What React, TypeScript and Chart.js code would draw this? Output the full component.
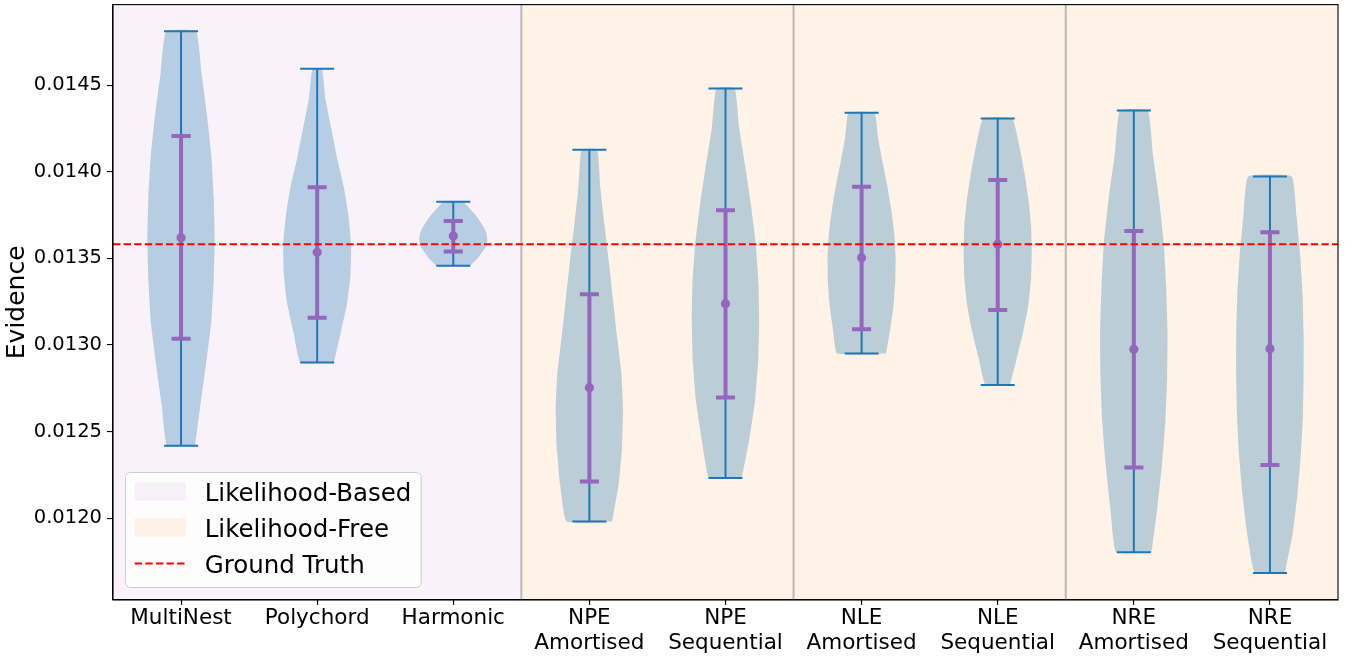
import { useEffect, useRef } from 'react';
import { Chart, registerables } from 'chart.js';

Chart.register(...registerables);

// ---------- data ----------
const categories = [
  'MultiNest',
  'Polychord',
  'Harmonic',
  'NPE\nAmortised',
  'NPE\nSequential',
  'NLE\nAmortised',
  'NLE\nSequential',
  'NRE\nAmortised',
  'NRE\nSequential',
];

const mins = [0.012417, 0.012898, 0.013457, 0.01198, 0.012231, 0.01295, 0.012769, 0.011802, 0.011683];
const maxs = [0.014811, 0.014594, 0.013827, 0.014127, 0.014481, 0.01434, 0.014308, 0.014354, 0.013973];
const means = [0.013619, 0.013535, 0.013629, 0.012753, 0.013238, 0.013503, 0.013581, 0.012975, 0.012978];
const stdLower = [0.013036, 0.013157, 0.01354, 0.012211, 0.012696, 0.01309, 0.013202, 0.012292, 0.012306];
const stdUpper = [0.014206, 0.013911, 0.013715, 0.013292, 0.013777, 0.013913, 0.013952, 0.013657, 0.01365];

// relative half-widths of each violin, sampled at evenly spaced levels from min (first) to max (last)
const multiNestWidth = [0.41, 0.57, 0.74, 0.89, 0.96, 0.99, 0.96, 0.89, 0.76, 0.6, 0.44];
const polychordWidth = [0.49, 0.69, 0.88, 0.98, 1.0, 0.92, 0.78, 0.58, 0.41, 0.24, 0.14];
const harmonicWidth = [0.49, 0.69, 0.83, 0.96, 1.0, 0.98, 0.9, 0.78, 0.64, 0.47, 0.29];
const npeAmortisedWidth = [0.67, 0.86, 0.96, 0.99, 0.94, 0.81, 0.69, 0.57, 0.44, 0.32, 0.23];
const npeSequentialWidth = [0.48, 0.7, 0.87, 0.96, 0.99, 0.97, 0.89, 0.75, 0.58, 0.4, 0.27];
const nleAmortisedWidth = [0.72, 0.84, 0.94, 0.99, 1.0, 0.96, 0.87, 0.75, 0.61, 0.48, 0.38];
const nleSequentialWidth = [0.36, 0.56, 0.75, 0.9, 0.98, 1.0, 0.98, 0.9, 0.78, 0.63, 0.43];
const nreAmortisedWidth = [0.52, 0.69, 0.83, 0.93, 0.98, 0.99, 0.95, 0.88, 0.74, 0.56, 0.41];
const nreSequentialWidth = [0.44, 0.67, 0.81, 0.91, 0.97, 0.99, 0.99, 0.96, 0.89, 0.78, 0.64];
const violinWidths = [
  multiNestWidth,
  polychordWidth,
  harmonicWidth,
  npeAmortisedWidth,
  npeSequentialWidth,
  nleAmortisedWidth,
  nleSequentialWidth,
  nreAmortisedWidth,
  nreSequentialWidth,
];

const groundTruth = 0.013581;
const yTicks = [0.012, 0.0125, 0.013, 0.0135, 0.014, 0.0145];
const yMin = 0.011527;
const yMax = 0.014965;

const regionLabels = ['Likelihood-Based', 'Likelihood-Free'];
const regionStarts = [0.5, 3.5];
const regionEnds = [3.5, 9.5];
const separators = [3.5, 5.5, 7.5];
const truthLabel = 'Ground Truth';

// ---------- styles ----------
const FONT = "'DejaVu Sans', 'Noto Sans', sans-serif";
const BLUE = '#1f77b4';
const PURPLE = '#9467bd';
const VIOLIN_FILL = 'rgba(31,119,180,0.3)';
const REGION_COLORS = ['rgba(128,0,128,0.05)', 'rgba(255,127,14,0.1)'];
const HALF_MAX = 0.25;
const BLUE_CAP = 0.125;
const PURPLE_CAP = 0.07;

export default function App() {
  const ref = useRef<HTMLCanvasElement>(null);

  useEffect(() => {
    const canvas = ref.current;
    if (!canvas) return;

    const violinDatasets = categories.map((_, i) => {
      const x = i + 1;
      const w = violinWidths[i];
      const n = w.length;
      const level = (k: number) => mins[i] + ((maxs[i] - mins[i]) * k) / (n - 1);
      const right = w.map((h, k) => ({ x: x + h * HALF_MAX, y: level(k) }));
      const left = w.map((h, k) => ({ x: x - h * HALF_MAX, y: level(k) })).reverse();
      return {
        data: [...right, ...left, right[0]],
        showLine: true,
        fill: 'shape',
        backgroundColor: VIOLIN_FILL,
        borderColor: 'rgba(0,0,0,0)',
        borderWidth: 0,
        pointRadius: 0,
        tension: 0.12,
        order: 10,
      };
    });

    const bluePts: { x: number; y: number | null }[] = [];
    categories.forEach((_, i) => {
      const x = i + 1;
      bluePts.push({ x: x - BLUE_CAP, y: mins[i] }, { x: x + BLUE_CAP, y: mins[i] }, { x, y: null });
      bluePts.push({ x, y: mins[i] }, { x, y: maxs[i] }, { x, y: null });
      bluePts.push({ x: x - BLUE_CAP, y: maxs[i] }, { x: x + BLUE_CAP, y: maxs[i] }, { x, y: null });
    });

    const purplePts: { x: number; y: number | null }[] = [];
    categories.forEach((_, i) => {
      const x = i + 1;
      purplePts.push({ x: x - PURPLE_CAP, y: stdLower[i] }, { x: x + PURPLE_CAP, y: stdLower[i] }, { x, y: null });
      purplePts.push({ x, y: stdLower[i] }, { x, y: stdUpper[i] }, { x, y: null });
      purplePts.push({ x: x - PURPLE_CAP, y: stdUpper[i] }, { x: x + PURPLE_CAP, y: stdUpper[i] }, { x, y: null });
    });

    const backgroundPlugin = {
      id: 'bgRegions',
      beforeDatasetsDraw(chart: any) {
        const { ctx, chartArea: a, scales } = chart;
        const xs = scales.x;
        ctx.save();
        regionStarts.forEach((s, k) => {
          const x0 = xs.getPixelForValue(s);
          const x1 = xs.getPixelForValue(regionEnds[k]);
          ctx.fillStyle = REGION_COLORS[k];
          ctx.fillRect(x0, a.top, x1 - x0, a.bottom - a.top);
        });
        ctx.strokeStyle = 'rgba(128,128,128,0.5)';
        ctx.lineWidth = 2;
        separators.forEach((s) => {
          const px = xs.getPixelForValue(s);
          ctx.beginPath();
          ctx.moveTo(px, a.top);
          ctx.lineTo(px, a.bottom);
          ctx.stroke();
        });
        ctx.restore();
      },
      afterDatasetsDraw(chart: any) {
        const { ctx, chartArea: a } = chart;
        ctx.save();
        ctx.strokeStyle = '#000';
        ctx.lineWidth = 1.1;
        ctx.strokeRect(a.left, a.top, a.right - a.left, a.bottom - a.top);
        ctx.restore();
      },
    };

    const legendPlugin = {
      id: 'insideLegend',
      afterDraw(chart: any) {
        const { ctx, chartArea: a } = chart;
        const labels = [...regionLabels, truthLabel];
        const fs = 24.5;
        ctx.save();
        ctx.font = `${fs}px ${FONT}`;
        const tw = Math.max(...labels.map((t) => ctx.measureText(t).width));
        const pad = 9.8;
        const handleX = 9.2;
        const handleW = 51;
        const textX = 79.2;
        const w = textX + tw + pad;
        const h = 115;
        const x0 = a.left + 12.5;
        const y0 = a.bottom - 12.5 - h;
        ctx.beginPath();
        ctx.roundRect(x0, y0, w, h, 5);
        ctx.fillStyle = 'rgba(255,255,255,0.8)';
        ctx.fill();
        ctx.strokeStyle = '#cccccc';
        ctx.lineWidth = 1;
        ctx.stroke();
        labels.forEach((t, k) => {
          const cy = y0 + 19 + k * 36;
          if (k < regionLabels.length) {
            ctx.fillStyle = REGION_COLORS[k];
            ctx.fillRect(x0 + handleX, cy - 9.3, handleW, 18.6);
          } else {
            ctx.strokeStyle = 'red';
            ctx.lineWidth = 2;
            ctx.setLineDash([7.4, 3.2]);
            ctx.beginPath();
            ctx.moveTo(x0 + handleX, cy);
            ctx.lineTo(x0 + handleX + handleW, cy);
            ctx.stroke();
            ctx.setLineDash([]);
          }
          ctx.fillStyle = '#000';
          ctx.textBaseline = 'alphabetic';
          ctx.textAlign = 'left';
          ctx.fillText(t, x0 + textX, cy + 9);
        });
        ctx.restore();
      },
    };

    const chart = new Chart(canvas, {
      type: 'scatter',
      data: {
        datasets: [
          {
            data: [
              { x: regionStarts[0], y: groundTruth },
              { x: regionEnds[regionEnds.length - 1], y: groundTruth },
            ],
            showLine: true,
            borderColor: 'red',
            borderWidth: 2,
            borderDash: [7.4, 3.2],
            pointRadius: 0,
            tension: 0,
            order: 0,
          },
          {
            data: means.map((m, i) => ({ x: i + 1, y: m })),
            showLine: false,
            pointRadius: 4.6,
            pointBackgroundColor: PURPLE,
            pointBorderColor: PURPLE,
            pointBorderWidth: 0,
            order: 1,
          },
          {
            data: purplePts,
            showLine: true,
            spanGaps: false,
            borderColor: PURPLE,
            borderWidth: 4,
            pointRadius: 0,
            tension: 0,
            order: 2,
          },
          {
            data: bluePts,
            showLine: true,
            spanGaps: false,
            borderColor: BLUE,
            borderWidth: 2,
            pointRadius: 0,
            tension: 0,
            order: 3,
          },
          ...violinDatasets,
        ] as any,
      },
      options: {
        animation: false,
        responsive: true,
        maintainAspectRatio: false,
        layout: { padding: { left: 0, right: 14, top: 3, bottom: 0 } },
        plugins: {
          legend: { display: false },
          tooltip: { enabled: false },
        },
        scales: {
          x: {
            type: 'linear',
            min: 0.5,
            max: 9.5,
            afterBuildTicks: (s: any) => {
              s.ticks = categories.map((_, i) => ({ value: i + 1 }));
            },
            afterFit: (s: any) => {
              s.height = 59;
              s.paddingLeft = 0;
              s.paddingRight = 0;
            },
            ticks: {
              autoSkip: false,
              maxRotation: 0,
              minRotation: 0,
              color: '#000',
              padding: 1,
              font: { family: FONT, size: 21.5, lineHeight: 25 / 21.5 },
              callback: (v: any) => {
                const c = categories[Math.round(Number(v)) - 1];
                return c ? c.split('\n') : '';
              },
            },
            grid: { drawOnChartArea: false, drawTicks: true, tickLength: 5, color: '#000', lineWidth: 1.1 },
            border: { display: true, color: '#000', width: 1.1 },
          },
          y: {
            type: 'linear',
            min: yMin,
            max: yMax,
            afterBuildTicks: (s: any) => {
              s.ticks = yTicks.map((v) => ({ value: v }));
            },
            afterFit: (s: any) => {
              s.width = 113;
              s.paddingTop = 0;
              s.paddingBottom = 0;
            },
            ticks: {
              color: '#000',
              padding: 5,
              font: { family: FONT, size: 19.5 },
              callback: (v: any) => Number(v).toFixed(4),
            },
            grid: { drawOnChartArea: false, drawTicks: true, tickLength: 6, color: '#000', lineWidth: 1.1 },
            border: { display: true, color: '#000', width: 1.1 },
            title: {
              display: true,
              text: 'Evidence',
              color: '#000',
              font: { family: FONT, size: 25 },
              padding: { top: 2, bottom: 0 },
            },
          },
        },
      } as any,
      plugins: [backgroundPlugin, legendPlugin],
    });

    return () => chart.destroy();
  }, []);

  return (
    <div
      style={{
        position: 'fixed',
        left: 0,
        top: 0,
        width: 1352,
        height: 659,
        background: '#fff',
      }}
    >
      <canvas ref={ref} />
    </div>
  );
}
